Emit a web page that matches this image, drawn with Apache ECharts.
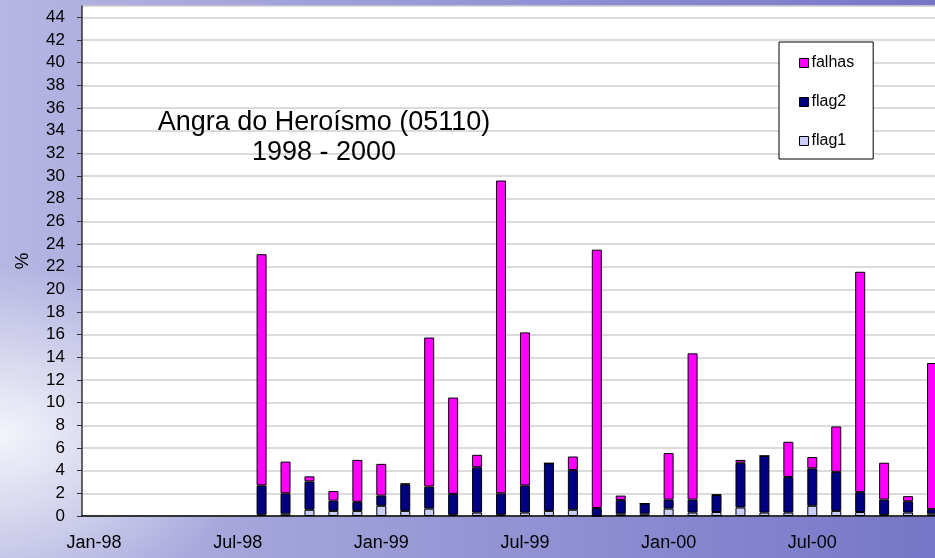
<!DOCTYPE html>
<html>
<head>
<meta charset="utf-8">
<script src="https://cdn.jsdelivr.net/npm/echarts@6/dist/echarts.min.js"></script>
<style>
  html, body {
    margin: 0;
    padding: 0;
    overflow: hidden;
  }
  body {
    width: 935px;
    height: 558px;
    background:
      radial-gradient(ellipse 260px 170px at 0% 78%, rgba(255, 255, 255, 0.85), rgba(255, 255, 255, 0)),
      linear-gradient(90deg, #b6b6e2 0%, #9c9cd8 40%, #7676c8 100%);
  }
  /* the plot runs a little past the right edge of the window, as in the original slide */
  #chart {
    width: 950px;
    height: 558px;
  }
</style>
</head>
<body>
<div id="chart"></div>
<script>
const months = [
  'Jan-98', 'Feb-98', 'Mar-98', 'Apr-98', 'May-98', 'Jun-98',
  'Jul-98', 'Aug-98', 'Sep-98', 'Oct-98', 'Nov-98', 'Dec-98',
  'Jan-99', 'Feb-99', 'Mar-99', 'Apr-99', 'May-99', 'Jun-99',
  'Jul-99', 'Aug-99', 'Sep-99', 'Oct-99', 'Nov-99', 'Dec-99',
  'Jan-00', 'Feb-00', 'Mar-00', 'Apr-00', 'May-00', 'Jun-00',
  'Jul-00', 'Aug-00', 'Sep-00', 'Oct-00', 'Nov-00', 'Dec-00'
];

// no data before Aug-98
const flag1 = [
  null, null, null, null, null, null, null, 0.1, 0.2, 0.55, 0.45, 0.45,
  0.9, 0.45, 0.65, 0.1, 0.3, 0.1, 0.3, 0.45, 0.55, 0, 0.2, 0.2,
  0.65, 0.3, 0.35, 0.75, 0.3, 0.3, 0.9, 0.45, 0.35, 0.1, 0.3, 0.2
];
const flag2 = [
  null, null, null, null, null, null, null, 2.6, 1.8, 2.5, 0.9, 0.8,
  0.9, 2.35, 1.95, 1.85, 4.0, 1.9, 2.4, 4.2, 3.5, 0.7, 1.2, 0.9,
  0.8, 1.15, 1.5, 3.95, 5.0, 3.15, 3.3, 3.45, 1.75, 1.35, 1.0, 0.4
];
const falhas = [
  null, null, null, null, null, null, null, 20.4, 2.8, 0.45, 0.85, 3.7,
  2.8, 0.06, 13.15, 8.5, 1.1, 27.6, 13.5, 0, 1.2, 22.8, 0.4, 0,
  4.1, 12.9, 0.04, 0.25, 0, 3.1, 1.0, 4.0, 19.45, 3.25, 0.45, 12.9
];

const font = "'Liberation Sans', Arial, sans-serif";
const chart = echarts.init(document.getElementById('chart'));

function barSeries(name, data, color) {
  return {
    name,
    type: 'bar',
    stack: 'total',
    data,
    barWidth: 10,
    itemStyle: {
      color,
      borderColor: '#000',
      borderWidth: 1
    }
  };
}

const option = {
  animation: false,
  textStyle: { fontFamily: font, color: '#000' },
  title: {
    text: 'Angra do Heroísmo (05110)\n1998 - 2000',
    left: 319,
    top: 103,
    textAlign: 'center',
    textStyle: {
      fontFamily: font,
      fontSize: 27,
      fontWeight: 'normal',
      lineHeight: 30,
      color: '#000'
    }
  },
  legend: {
    orient: 'vertical',
    left: 779,
    top: 42,
    data: ['falhas', 'flag2', 'flag1'],
    icon: 'rect',
    itemWidth: 9,
    itemHeight: 9,
    itemGap: 23,
    padding: [13, 19, 10, 20],
    backgroundColor: '#fff',
    borderColor: '#000',
    borderWidth: 1,
    borderRadius: 0,
    itemStyle: { borderColor: '#000', borderWidth: 1 },
    textStyle: {
      fontFamily: font,
      fontSize: 16,
      lineHeight: 16,
      color: '#000',
      padding: [0, 0, 0, -2]
    }
  },
  grid: {
    left: 82,
    right: 6,
    top: 6,
    bottom: 42,
    outerBoundsMode: 'none',
    show: true,
    backgroundColor: '#fff',
    borderWidth: 0
  },
  xAxis: {
    type: 'category',
    data: months,
    boundaryGap: true,
    axisLine: { lineStyle: { color: '#000', width: 1.5 } },
    axisTick: { interval: 5, length: 6, lineStyle: { color: '#000' } },
    axisLabel: {
      interval: 5,
      margin: 18,
      fontSize: 18,
      fontFamily: font,
      color: '#000'
    }
  },
  yAxis: {
    type: 'value',
    min: 0,
    max: 45,
    interval: 2,
    name: '%',
    nameLocation: 'middle',
    nameGap: 50,
    nameTextStyle: { fontFamily: font, fontSize: 19, color: '#000' },
    axisLine: { show: true, lineStyle: { color: '#333', width: 1.5 } },
    axisTick: { show: true, length: 5, lineStyle: { color: '#333' } },
    axisLabel: {
      showMaxLabel: false,
      margin: 17,
      fontSize: 17,
      fontFamily: font,
      color: '#000'
    },
    splitLine: { lineStyle: { color: '#cfcfcf', width: 1.5 } }
  },
  series: [
    barSeries('flag1', flag1, '#ccccff'),
    barSeries('flag2', flag2, '#000080'),
    barSeries('falhas', falhas, '#ff00ff')
  ]
};

chart.setOption(option);
window.onresize = () => {
  chart.resize();
};
</script>
</body>
</html>
